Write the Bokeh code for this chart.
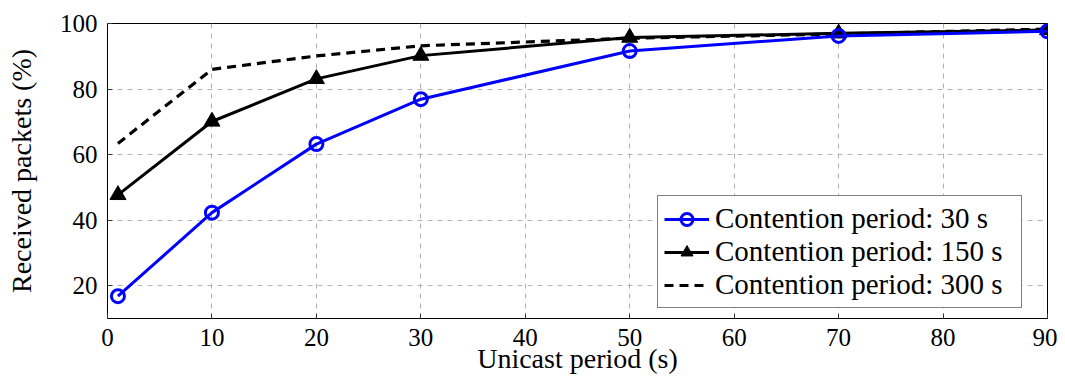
from bokeh.plotting import figure
from bokeh.models import FixedTicker, Range1d, Legend, LegendItem
from bokeh.embed import file_html
from bokeh.resources import INLINE

# Data
unicast_period = [1, 10, 20, 30, 50, 70, 90]
recv_30 = [16.8, 42.3, 63.2, 76.9, 91.6, 96.2, 97.6]
recv_150 = [47.7, 70.1, 83.1, 90.2, 95.7, 97.0, 98.0]
recv_300 = [63.4, 86.0, 90.1, 93.2, 95.5, 96.8, 98.3]
labels = ["Contention period: 30 s", "Contention period: 150 s", "Contention period: 300 s"]
x_ticks = [0, 10, 20, 30, 40, 50, 60, 70, 80, 90]
y_ticks = [20, 40, 60, 80, 100]

FONT = "Liberation Serif"

p = figure(width=1057, height=376, output_backend="svg", toolbar_location=None,
           x_range=Range1d(0, 90), y_range=Range1d(10, 100),
           min_border_left=107, min_border_right=10, min_border_top=23, min_border_bottom=10)

p.outline_line_color = "black"
p.outline_line_width = 1
p.background_fill_color = "white"
p.border_fill_color = "white"

for ax, ticks in ((p.xaxis[0], x_ticks), (p.yaxis[0], y_ticks)):
    ax.ticker = FixedTicker(ticks=ticks)
    ax.major_tick_in = 5
    ax.major_tick_out = 0
    ax.minor_tick_line_color = None
    ax.axis_line_color = None
    ax.major_tick_line_color = "#333333"
    ax.major_label_text_font = FONT
    ax.major_label_text_font_size = "25px"
    ax.major_label_text_color = "black"
    ax.major_label_standoff = 10
    ax.axis_label_text_font = FONT
    ax.axis_label_text_font_size = "28px"
    ax.axis_label_text_font_style = "normal"
    ax.axis_label_text_color = "black"

p.xaxis[0].axis_label = "Unicast period (s)"
p.xaxis[0].axis_label_standoff = -6
p.yaxis[0].axis_label = "Received packets (%)"
p.yaxis[0].axis_label_standoff = 20

for g in (p.xgrid[0], p.ygrid[0]):
    g.grid_line_color = "#b3b3b3"
    g.grid_line_dash = "5 5"
    g.grid_line_width = 1
p.xgrid[0].ticker = FixedTicker(ticks=x_ticks)
p.ygrid[0].ticker = FixedTicker(ticks=y_ticks)

l3 = p.line(unicast_period, recv_300, line_color="black", line_width=3.2, line_dash="9 6")
l2 = p.line(unicast_period, recv_150, line_color="black", line_width=3)
s2 = p.scatter(unicast_period, recv_150, marker="triangle", size=16, fill_color="black",
               line_color="black", line_width=1)
l1 = p.line(unicast_period, recv_30, line_color="blue", line_width=3)
s1 = p.scatter(unicast_period, recv_30, marker="circle", size=13, fill_color=None,
               line_color="blue", line_width=3)

legend = Legend(items=[LegendItem(label=labels[0], renderers=[l1, s1]),
                       LegendItem(label=labels[1], renderers=[l2, s2]),
                       LegendItem(label=labels[2], renderers=[l3])],
                location=(550, 10))
legend.label_text_font = FONT
legend.label_text_font_size = "29px"
legend.label_text_color = "black"
legend.border_line_color = "black"
legend.border_line_width = 1
legend.background_fill_color = "white"
legend.background_fill_alpha = 1
legend.glyph_width = 45
legend.glyph_height = 30
legend.label_height = 30
legend.label_width = 300
legend.label_standoff = 6
legend.spacing = 0
legend.padding = 6
legend.margin = 0
p.add_layout(legend, "center")

open("out.html", "w").write(file_html(p, INLINE))
